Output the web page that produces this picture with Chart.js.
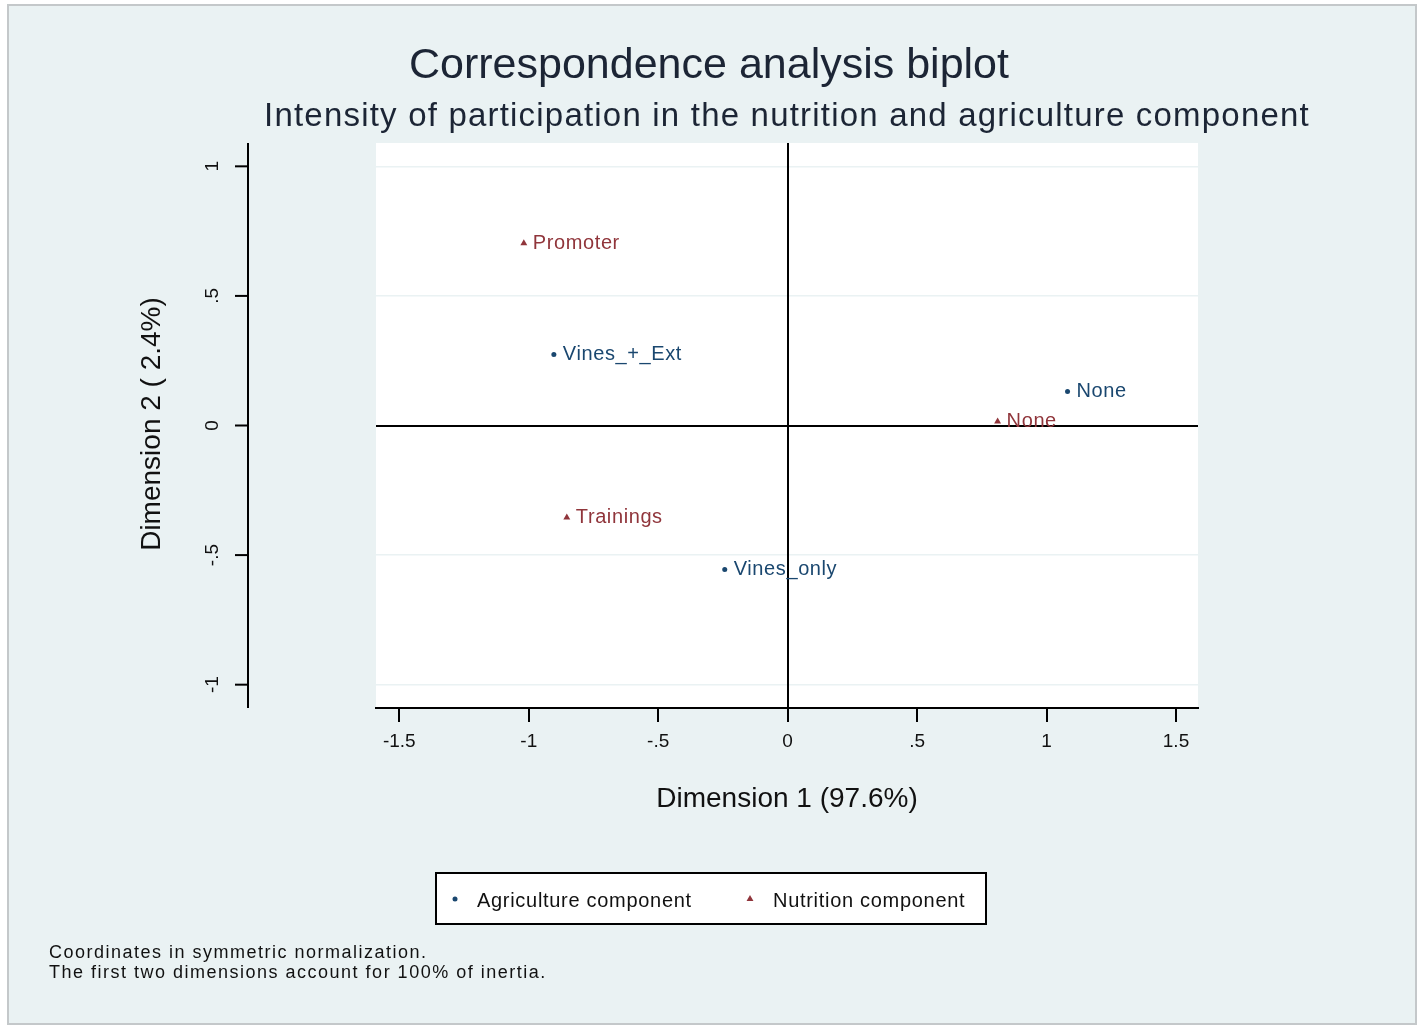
<!DOCTYPE html>
<html>
<head>
<meta charset="utf-8">
<title>Correspondence analysis biplot</title>
<script src="https://cdn.jsdelivr.net/npm/chart.js@4.4.1/dist/chart.umd.min.js"></script>
<style>
  html, body { margin: 0; padding: 0; background: #fff; }
  canvas { display: block; }
</style>
</head>
<body>
<canvas id="biplot" width="1421" height="1026"></canvas>
<script>
// row categories (agriculture component)
const agriLabels = ["Vines_+_Ext", "None", "Vines_only"];
const agriDim1 = [-0.903, 1.081, -0.243];
const agriDim2 = [0.274, 0.131, -0.556];

// column categories (nutrition component)
const nutrLabels = ["Promoter", "None", "Trainings"];
const nutrDim1 = [-1.019, 0.811, -0.853];
const nutrDim2 = [0.703, 0.015, -0.355];

const xTicks = [-1.5, -1, -0.5, 0, 0.5, 1, 1.5];
const yTicks = [-1, -0.5, 0, 0.5, 1];

const FONT = "'Liberation Sans', Arial, sans-serif";
const NAVY = "#1a476f";
const MAROON = "#90353b";
const BG = "#eaf2f3";

// Stata style tick label: .5 instead of 0.5
function stataNum(v) {
  let s = String(v);
  return s.replace(/^0\./, ".").replace(/^-0\./, "-.");
}

function toPoints(xs, ys) {
  return xs.map((x, i) => ({ x: x, y: ys[i] }));
}

const framePlugin = {
  id: "stataFrame",
  beforeDraw(chart) {
    const ctx = chart.ctx;
    const area = chart.chartArea;
    ctx.save();
    ctx.fillStyle = "#fff";
    ctx.fillRect(0, 0, chart.width, chart.height);
    ctx.fillStyle = BG;
    ctx.fillRect(8, 5, 1408, 1019);
    ctx.strokeStyle = "#c4c8ca";
    ctx.lineWidth = 2;
    ctx.strokeRect(8, 5, 1408, 1019);
    // plot region
    ctx.fillStyle = "#fff";
    ctx.fillRect(area.left, area.top, area.right - area.left, area.bottom - area.top);
    ctx.restore();
  },
  afterDraw(chart) {
    const ctx = chart.ctx;
    const area = chart.chartArea;
    const yScale = chart.scales.y;
    ctx.save();

    // titles
    ctx.fillStyle = "#1c2535";
    ctx.textAlign = "center";
    ctx.textBaseline = "middle";
    ctx.font = "43px " + FONT;
    ctx.fillText("Correspondence analysis biplot", 709, 66);
    ctx.letterSpacing = "1.2px";
    ctx.font = "33px " + FONT;
    ctx.fillText("Intensity of participation in the nutrition and agriculture component", 787, 117);
    ctx.letterSpacing = "0px";

    // y axis, set apart from the plot region as Stata does
    const axisX = 248;
    ctx.strokeStyle = "#000";
    ctx.lineWidth = 2;
    ctx.beginPath();
    ctx.moveTo(axisX, area.top);
    ctx.lineTo(axisX, area.bottom);
    ctx.stroke();
    ctx.fillStyle = "#111";
    ctx.font = "19px " + FONT;
    yTicks.forEach((v) => {
      const py = yScale.getPixelForValue(v);
      ctx.beginPath();
      ctx.moveTo(axisX, py);
      ctx.lineTo(axisX - 13, py);
      ctx.stroke();
      ctx.save();
      ctx.translate(213, py);
      ctx.rotate(-Math.PI / 2);
      ctx.fillText(stataNum(v), 0, 0);
      ctx.restore();
    });
    ctx.save();
    ctx.translate(152, 424);
    ctx.rotate(-Math.PI / 2);
    ctx.font = "28px " + FONT;
    ctx.fillText("Dimension 2 ( 2.4%)", 0, 0);
    ctx.restore();

    // legend box
    ctx.fillStyle = "#fff";
    ctx.fillRect(436, 873, 550, 51);
    ctx.strokeRect(436, 873, 550, 51);
    const items = [
      { ds: 0, mx: 455, tx: 477 },
      { ds: 1, mx: 750, tx: 773 },
    ];
    ctx.textAlign = "left";
    ctx.font = "20px " + FONT;
    ctx.letterSpacing = "0.7px";
    items.forEach((it) => {
      const ds = chart.data.datasets[it.ds];
      ctx.fillStyle = ds.backgroundColor;
      Chart.helpers.drawPoint(ctx, {
        pointStyle: ds.pointStyle,
        radius: ds.pointRadius,
        rotation: 0,
        borderWidth: 0,
      }, it.mx, 899);
      ctx.fillStyle = "#111";
      ctx.fillText(ds.label, it.tx, 901);
    });

    // note
    ctx.font = "18px " + FONT;
    ctx.letterSpacing = "1.5px";
    ctx.fillText("Coordinates in symmetric normalization.", 49, 953);
    ctx.fillText("The first two dimensions account for 100% of inertia.", 49, 973);
    ctx.restore();
  },
  afterDatasetsDraw(chart) {
    const ctx = chart.ctx;
    const names = [agriLabels, nutrLabels];
    ctx.save();
    ctx.font = "20px " + FONT;
    ctx.textAlign = "left";
    ctx.textBaseline = "middle";
    ctx.letterSpacing = "0.6px";
    chart.data.datasets.forEach((ds, i) => {
      const meta = chart.getDatasetMeta(i);
      ctx.fillStyle = ds.backgroundColor;
      meta.data.forEach((el, j) => {
        ctx.fillText(names[i][j], el.x + 9, el.y);
      });
    });
    ctx.restore();
  },
};

const ctx = document.getElementById("biplot").getContext("2d");
new Chart(ctx, {
  type: "scatter",
  data: {
    datasets: [
      {
        label: "Agriculture component",
        data: toPoints(agriDim1, agriDim2),
        backgroundColor: NAVY,
        borderColor: NAVY,
        pointStyle: "circle",
        pointRadius: 2.5,
        borderWidth: 0,
      },
      {
        label: "Nutrition component",
        data: toPoints(nutrDim1, nutrDim2),
        backgroundColor: MAROON,
        borderColor: MAROON,
        pointStyle: "triangle",
        pointRadius: 4,
        borderWidth: 0,
      },
    ],
  },
  options: {
    responsive: false,
    animation: false,
    devicePixelRatio: 1,
    layout: {
      padding: { left: 376, right: 223, top: 143, bottom: 208 },
    },
    scales: {
      x: {
        type: "linear",
        min: -1.59,
        max: 1.585,
        afterBuildTicks: (scale) => {
          scale.ticks = xTicks.map((v) => ({ value: v }));
        },
        afterFit: (scale) => {
          scale.height = 110;
        },
        border: { display: true, color: "#000", width: 2 },
        grid: {
          z: -1,
          color: (c) => (c.tick && c.tick.value === 0 ? "#000" : "rgba(0,0,0,0)"),
          lineWidth: 2,
          tickColor: "#000",
          tickWidth: 2,
          tickLength: 14,
        },
        ticks: {
          color: "#111",
          padding: 8,
          font: { family: FONT, size: 19 },
          callback: (v) => stataNum(v),
          maxRotation: 0,
        },
        title: {
          display: true,
          text: "Dimension 1 (97.6%)",
          color: "#111",
          font: { family: FONT, size: 28 },
          padding: { top: 0, bottom: 2 },
        },
      },
      y: {
        type: "linear",
        min: -1.09,
        max: 1.09,
        afterBuildTicks: (scale) => {
          scale.ticks = yTicks.map((v) => ({ value: v }));
        },
        afterFit: (scale) => {
          scale.width = 0;
        },
        border: { display: false },
        grid: {
          z: -2,
          drawTicks: false,
          color: (c) => (c.tick && c.tick.value === 0 ? "#000" : BG),
          lineWidth: (c) => (c.tick && c.tick.value === 0 ? 2 : 1.5),
        },
        ticks: { display: false },
      },
    },
    plugins: {
      legend: { display: false },
      tooltip: { enabled: false },
    },
  },
  plugins: [framePlugin],
});
</script>
</body>
</html>
